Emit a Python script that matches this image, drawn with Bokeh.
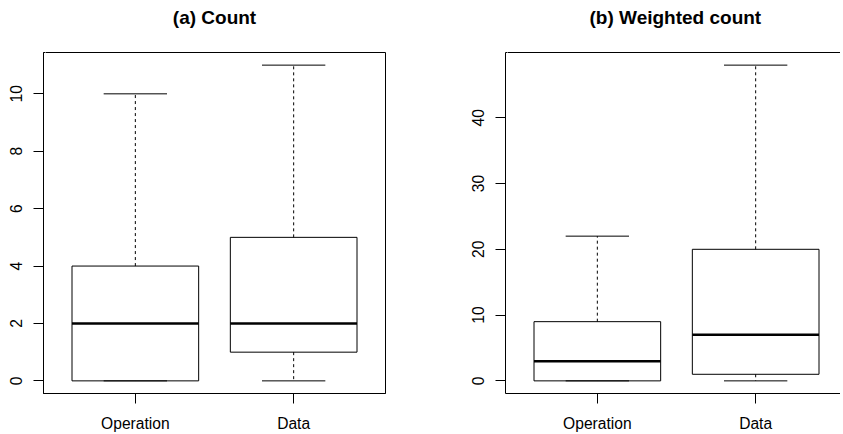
from bokeh.plotting import figure
from bokeh.layouts import row
from bokeh.models import FixedTicker, Range1d, LinearAxis
from bokeh.embed import file_html
from bokeh.resources import INLINE

# ---- data ----
categories = ["Operation", "Data"]

count_min = [0, 0]
count_q1 = [0, 1]
count_median = [2, 2]
count_q3 = [4, 5]
count_max = [10, 11]
count_ticks = [0, 2, 4, 6, 8, 10]

weighted_min = [0, 0]
weighted_q1 = [0, 1]
weighted_median = [3, 7]
weighted_q3 = [9, 20]
weighted_max = [22, 48]
weighted_ticks = [0, 10, 20, 30, 40]

FONT = "Liberation Sans"
TICK_SIZE = "15.6px"
TITLE_SIZE = "19px"

FRAME_H = 341
PX_PER_X = 342 / 2.16


def make_panel(title, mins, q1, med, q3, maxs, yticks, frame_w, border_left,
               border_right, full_outline, title_align="center", title_offset=0):
    pos = [i + 1 for i in range(len(categories))]
    lo = min(mins)
    hi = max(maxs)
    pad = 0.04 * (hi - lo)
    x_start = 0.42
    x_end = x_start + frame_w / PX_PER_X
    p = figure(frame_width=frame_w, frame_height=FRAME_H,
               x_range=Range1d(x_start, x_end),
               y_range=Range1d(lo - pad, hi + pad),
               output_backend="svg", toolbar_location=None,
               min_border_left=border_left, min_border_right=border_right,
               min_border_top=52, min_border_bottom=36,
               background_fill_color="white", border_fill_color="white")
    p.grid.visible = False

    # spacer axis (invisible white tick) between the frame and the title;
    # its line doubles as the top frame border where no outline is drawn
    top = LinearAxis(ticker=FixedTicker(ticks=[x_start + 0.01]),
                     major_label_overrides={x_start + 0.01: ""},
                     major_label_text_font_size="1px",
                     axis_line_color=None if full_outline else "black",
                     major_tick_line_color="white", minor_tick_line_color=None,
                     major_tick_out=21, major_tick_in=0, major_label_standoff=0)
    p.add_layout(top, "above")

    p.title.text = title
    p.title.text_font = FONT
    p.title.text_font_size = TITLE_SIZE
    p.title.text_font_style = "bold"
    p.title.align = title_align
    p.title.offset = title_offset
    p.title.standoff = 8
    p.title.text_color = "black"

    # whiskers
    p.segment(x0=pos, y0=q3, x1=pos, y1=maxs, line_color="black",
              line_width=1, line_dash="3 3")
    p.segment(x0=pos, y0=q1, x1=pos, y1=mins, line_color="black",
              line_width=1, line_dash="3 3")
    # caps
    p.segment(x0=[x - 0.2 for x in pos], y0=maxs, x1=[x + 0.2 for x in pos], y1=maxs,
              line_color="black", line_width=1)
    p.segment(x0=[x - 0.2 for x in pos], y0=mins, x1=[x + 0.2 for x in pos], y1=mins,
              line_color="black", line_width=1)
    # boxes
    p.quad(left=[x - 0.4 for x in pos], right=[x + 0.4 for x in pos],
           bottom=q1, top=q3, fill_color=None, line_color="black", line_width=1)
    # medians
    p.segment(x0=[x - 0.4 for x in pos], y0=med, x1=[x + 0.4 for x in pos], y1=med,
              line_color="black", line_width=2.5)

    xax = p.below[0]
    yax = p.left[0]
    for ax in (xax, yax):
        ax.axis_line_color = "black"
        ax.major_tick_line_color = "black"
        ax.major_tick_out = 10
        ax.major_tick_in = 0
        ax.minor_tick_line_color = None
        ax.major_label_text_font = FONT
        ax.major_label_text_font_size = TICK_SIZE
        ax.major_label_text_color = "black"

    xax.ticker = FixedTicker(ticks=pos)
    xax.major_label_overrides = {x: c for x, c in zip(pos, categories)}
    xax.major_label_standoff = 11

    yax.ticker = FixedTicker(ticks=yticks)
    yax.major_label_orientation = "vertical"
    yax.major_label_standoff = 11

    if full_outline:
        p.outline_line_color = "black"
        p.outline_line_width = 1
    else:
        p.outline_line_color = None
    return p


pa = make_panel("(a) Count", count_min, count_q1, count_median, count_q3, count_max,
                count_ticks, 342, 43, 60, True)
pb = make_panel("(b) Weighted count", weighted_min, weighted_q1, weighted_median,
                weighted_q3, weighted_max, weighted_ticks, 335, 60, 0, False,
                title_align="left", title_offset=84)

layout = row(pa, pb, spacing=0)
open("out.html", "w").write(file_html(layout, INLINE))
